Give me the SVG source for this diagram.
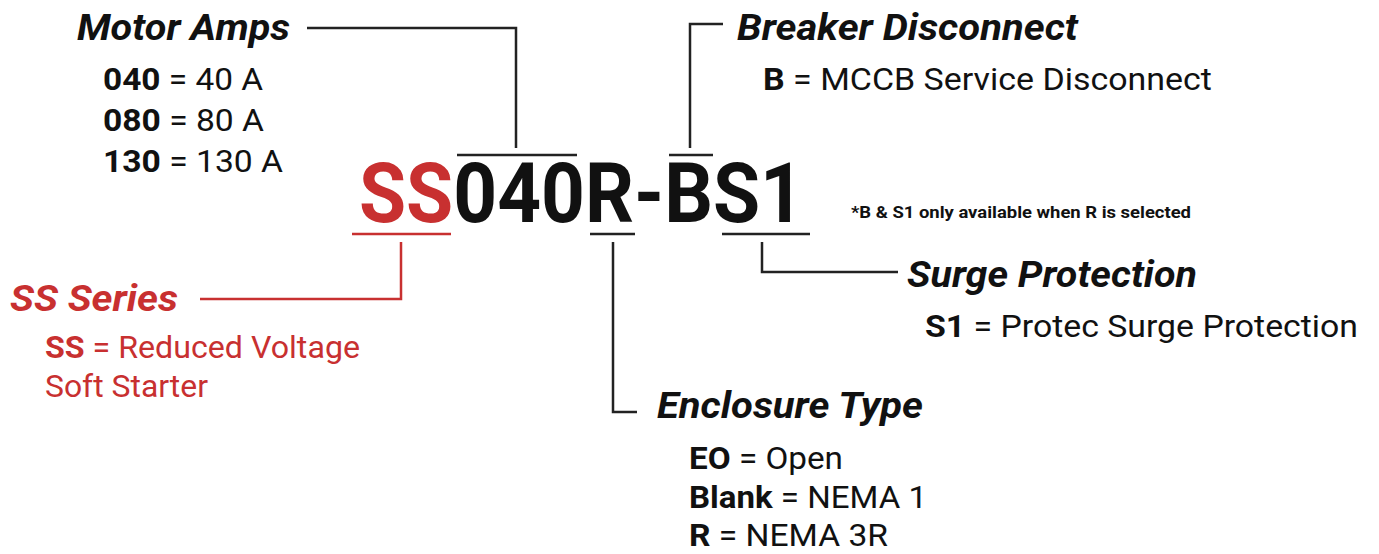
<svg xmlns="http://www.w3.org/2000/svg" width="1379" height="554" viewBox="0 0 1379 554">
<style>
text{font-family:Roboto,"Liberation Sans",sans-serif;fill:#111}
.t{font-size:36px;font-weight:700;font-style:italic}
.i{font-size:31px;font-weight:400}
.b{font-weight:700}
.red{fill:#c83030}
.ln{stroke:#222;stroke-width:2.5;fill:none}
.lr{stroke:#c83030;stroke-width:2.5;fill:none}
</style>
<rect width="1379" height="554" fill="#fff"/>
<g id="code">
<text x="359" y="222" font-size="84" font-weight="700" textLength="445" lengthAdjust="spacingAndGlyphs"><tspan class="red">SS</tspan>040R-BS1</text>
<text x="851" y="218" font-size="16" font-weight="700" textLength="340" lengthAdjust="spacingAndGlyphs">*B &amp; S1 only available when R is selected</text>
</g>
<g id="connectors">
<path class="ln" d="M457 155H577M669 155H713"/>
<path class="lr" d="M352 234H451"/>
<path class="ln" d="M590 234H635M722 234H810"/>
<path class="ln" d="M307 28H516V148"/>
<path class="ln" d="M723 24H690V148"/>
<path class="lr" d="M200 299H401V242"/>
<path class="ln" d="M762 242V272H898"/>
<path class="ln" d="M613 242V412H637"/>
</g>
<g id="motor-amps">
<text class="t" x="77" y="40" textLength="213" lengthAdjust="spacingAndGlyphs">Motor Amps</text>
<text class="i" x="103" y="90" textLength="160" lengthAdjust="spacingAndGlyphs"><tspan class="b">040</tspan> = 40 A</text>
<text class="i" x="103" y="131" textLength="161" lengthAdjust="spacingAndGlyphs"><tspan class="b">080</tspan> = 80 A</text>
<text class="i" x="103" y="172" textLength="180" lengthAdjust="spacingAndGlyphs"><tspan class="b">130</tspan> = 130 A</text>
</g>
<g id="ss-series">
<text class="t red" x="10" y="311" textLength="168" lengthAdjust="spacingAndGlyphs">SS Series</text>
<text class="i red" x="45" y="358" textLength="315" lengthAdjust="spacingAndGlyphs"><tspan class="b">SS</tspan> = Reduced Voltage</text>
<text class="i red" x="45" y="397" textLength="163" lengthAdjust="spacingAndGlyphs">Soft Starter</text>
</g>
<g id="breaker">
<text class="t" x="737" y="40" textLength="341" lengthAdjust="spacingAndGlyphs">Breaker Disconnect</text>
<text class="i" x="763" y="90" textLength="449" lengthAdjust="spacingAndGlyphs"><tspan class="b">B</tspan> = MCCB Service Disconnect</text>
</g>
<g id="surge">
<text class="t" x="907" y="287" textLength="290" lengthAdjust="spacingAndGlyphs">Surge Protection</text>
<text class="i" x="925" y="337" textLength="433" lengthAdjust="spacingAndGlyphs"><tspan class="b">S1</tspan> = Protec Surge Protection</text>
</g>
<g id="enclosure">
<text class="t" x="657" y="418" textLength="266" lengthAdjust="spacingAndGlyphs">Enclosure Type</text>
<text class="i" x="689" y="469" textLength="154" lengthAdjust="spacingAndGlyphs"><tspan class="b">EO</tspan> = Open</text>
<text class="i" x="689" y="508" textLength="238" lengthAdjust="spacingAndGlyphs"><tspan class="b">Blank</tspan> = NEMA 1</text>
<text class="i" x="689" y="546" textLength="199" lengthAdjust="spacingAndGlyphs"><tspan class="b">R</tspan> = NEMA 3R</text>
</g>
</svg>
